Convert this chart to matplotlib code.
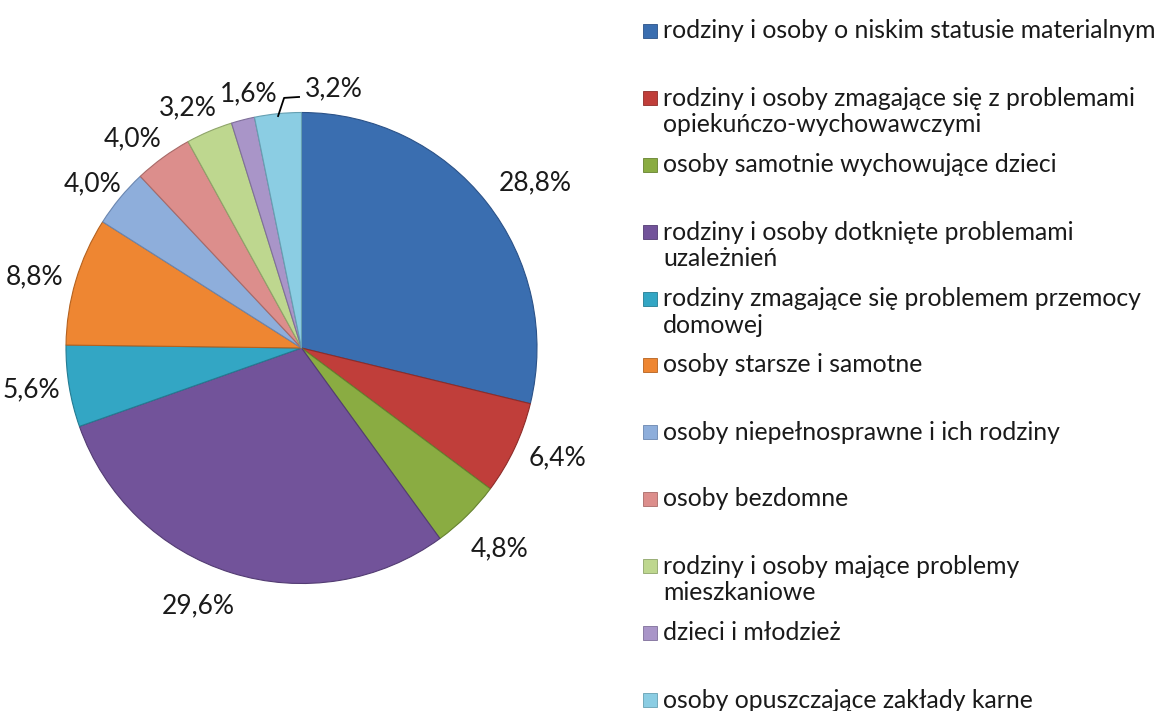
import matplotlib
matplotlib.use("Agg")
import matplotlib.pyplot as plt
import numpy as np
from matplotlib.patches import Rectangle

# dane
categories = [
    "rodziny i osoby o niskim statusie materialnym",
    "rodziny i osoby zmagające się z problemami\nopiekuńczo-wychowawczymi",
    "osoby samotnie wychowujące dzieci",
    "rodziny i osoby dotknięte problemami\nuzależnień",
    "rodziny zmagające się problemem przemocy\ndomowej",
    "osoby starsze i samotne",
    "osoby niepełnosprawne i ich rodziny",
    "osoby bezdomne",
    "rodziny i osoby mające problemy\nmieszkaniowe",
    "dzieci i młodzież",
    "osoby opuszczające zakłady karne",
]
shares = [28.8, 6.4, 4.8, 29.6, 5.6, 8.8, 4.0, 4.0, 3.2, 1.6, 3.2]

colors = ["#3A6EB0", "#C03E3A", "#8AAC42", "#72539A", "#33A6C4", "#EE8632",
          "#8EAEDB", "#DC8E8C", "#BED78F", "#A995C8", "#8BCDE3"]
edge_colors = ["#2B5288", "#8E2C29", "#66822F", "#533C73", "#247C93", "#B5621F",
               "#6A86B0", "#A86A68", "#8FA56A", "#7F6F9A", "#66A0B2"]
# polozenie etykiet: promien (px) i przesuniecie kata od srodka wycinka (stopnie)
label_r = [286, 279, 282, 278, 273, 276, 266, 269, 266, 260, None]
label_da = [-3, 2, 0, -4.6, -0.5, 1.6, 1.5, 3, 2.2, -2.6, 0]

plt.rcParams['font.family'] = ['Lato', 'DejaVu Sans']

W, H = 1163, 711
fig = plt.figure(figsize=(W / 100, H / 100), dpi=100)
fig.patch.set_facecolor("white")

cx, cy, R = 301.5, 348, 235.5
ax = fig.add_axes([(cx - R) / W, (H - cy - R) / H, 2 * R / W, 2 * R / H])
wedges, _ = ax.pie(shares, colors=colors, startangle=90, counterclock=False,
                   radius=1.0, wedgeprops=dict(linewidth=0.8))
for w, ec in zip(wedges, edge_colors):
    w.set_edgecolor(ec)
ax.set_xlim(-1, 1)
ax.set_ylim(-1, 1)
ax.axis("off")

fmt = lambda v: f"{v:.1f}%".replace(".", ",")
for i, (w, v) in enumerate(zip(wedges, shares)):
    ang = np.deg2rad((w.theta1 + w.theta2) / 2 + label_da[i])
    if label_r[i] is None:
        # etykieta z linia odniesienia
        x0, y0 = 0.99 * np.cos(ang), 0.99 * np.sin(ang)
        ax.plot([x0, x0 + 0.0255, x0 + 0.089], [y0, y0 + 0.077, y0 + 0.081],
                color="black", lw=1.3, clip_on=False)
        ax.text(x0 + 0.115, y0 + 0.115, fmt(v), ha="left", va="center",
                fontsize=19, color="#1a1a1a")
        continue
    r = label_r[i] / R
    ax.text(r * np.cos(ang), r * np.sin(ang), fmt(v), ha="center", va="center",
            fontsize=19, color="#1a1a1a")

# legenda
row_y = [31, 98, 165, 232, 299, 365, 432, 499, 566, 633, 700]
for lab, col, ec, y in zip(categories, colors, edge_colors, row_y):
    fig.patches.append(Rectangle((643 / W, (H - y - 7) / H), 14 / W, 14 / H,
                                 transform=fig.transFigure, facecolor=col,
                                 edgecolor=ec, linewidth=0.6))
    for k, ln in enumerate(lab.split("\n")):
        fig.text(663 / W, (H - y - 26 * k) / H, ln, ha="left", va="center",
                 fontsize=17.8, color="#1a1a1a")

fig.savefig("out.png", dpi=100)
